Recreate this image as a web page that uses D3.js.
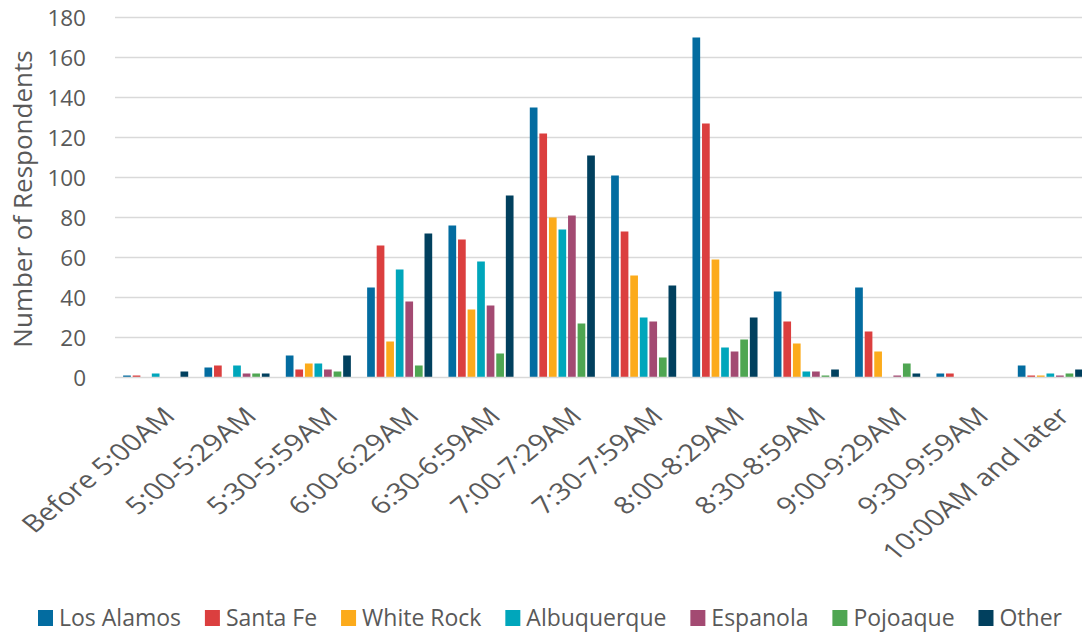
<!DOCTYPE html>
<html>
<head>
<meta charset="utf-8">
<script src="https://cdn.jsdelivr.net/npm/d3@7"></script>
<style>
  html, body { margin: 0; padding: 0; background: #fff; }
  svg { display: block; font-family: "Open Sans", "Noto Sans", sans-serif; }
</style>
</head>
<body>
<svg id="chart" width="1082" height="635"></svg>
<script>
// Arrival time windows
const categories = [
  "Before 5:00AM", "5:00-5:29AM", "5:30-5:59AM", "6:00-6:29AM", "6:30-6:59AM",
  "7:00-7:29AM", "7:30-7:59AM", "8:00-8:29AM", "8:30-8:59AM", "9:00-9:29AM",
  "9:30-9:59AM", "10:00AM and later"
];

const seriesNames = ["Los Alamos", "Santa Fe", "White Rock", "Albuquerque", "Espanola", "Pojoaque", "Other"];
const seriesColors = ["#036ca0", "#db3f3f", "#fcab1b", "#00a6bb", "#a34a72", "#4fa652", "#01405e"];

// Respondent counts per origin, one value per time window
const losAlamos   = [1, 5, 11, 45, 76, 135, 101, 170, 43, 45, 2, 6];
const santaFe     = [1, 6, 4, 66, 69, 122, 73, 127, 28, 23, 2, 1];
const whiteRock   = [0, 0, 7, 18, 34, 80, 51, 59, 17, 13, 0, 1];
const albuquerque = [2, 6, 7, 54, 58, 74, 30, 15, 3, 0, 0, 2];
const espanola    = [0, 2, 4, 38, 36, 81, 28, 13, 3, 1, 0, 1];
const pojoaque    = [0, 2, 3, 6, 12, 27, 10, 19, 1, 7, 0, 2];
const other       = [3, 2, 11, 72, 91, 111, 46, 30, 4, 2, 0, 4];

const yTicks = [0, 20, 40, 60, 80, 100, 120, 140, 160, 180];

const seriesValues = [losAlamos, santaFe, whiteRock, albuquerque, espanola, pojoaque, other];

(function () {
  const svg = d3.select("#chart");
  const plotLeft = 115, plotRight = 1091, plotTop = 17.5, plotBottom = 377.5;
  const textColor = "#595959";

  const x0 = d3.scaleBand().domain(categories).range([plotLeft, plotRight])
    .paddingInner(0.2).paddingOuter(0.1);
  const x1 = d3.scaleBand().domain(seriesNames).range([0, x0.bandwidth()])
    .paddingInner(0.195).paddingOuter(0);
  const y = d3.scaleLinear().domain([0, 180]).range([plotBottom, plotTop]);

  // Gridlines
  svg.append("g")
    .selectAll("line")
    .data(yTicks.filter(t => t > 0))
    .join("line")
    .attr("x1", plotLeft).attr("x2", plotRight)
    .attr("y1", d => y(d)).attr("y2", d => y(d))
    .attr("stroke", "#d9d9d9").attr("stroke-width", 1.3);

  // Y axis labels
  const yAxis = d3.axisLeft(y).tickValues(yTicks).tickSize(0).tickPadding(0);
  svg.append("g")
    .attr("transform", "translate(86,0)")
    .call(yAxis)
    .call(g => g.select(".domain").remove())
    .call(g => g.selectAll("text")
      .attr("fill", textColor).attr("font-size", 22.5)
      .attr("font-family", "Open Sans, sans-serif")
      .attr("dy", "0.36em"));

  // Y axis title
  svg.append("text")
    .attr("transform", "translate(32,199) rotate(-90)")
    .attr("text-anchor", "middle")
    .attr("fill", textColor).attr("font-size", 26)
    .text("Number of Respondents");

  // Bars
  const groups = svg.append("g")
    .selectAll("g")
    .data(categories)
    .join("g")
    .attr("transform", d => `translate(${x0(d)},0)`);

  groups.selectAll("rect")
    .data((c, i) => seriesNames.map((s, k) => ({ s, k, v: seriesValues[k][i] })))
    .join("rect")
    .attr("x", d => x1(d.s))
    .attr("width", x1.bandwidth())
    .attr("y", d => y(d.v))
    .attr("height", d => y(0) - y(d.v))
    .attr("fill", d => seriesColors[d.k]);

  // X axis line
  svg.append("line")
    .attr("x1", plotLeft).attr("x2", plotRight)
    .attr("y1", plotBottom).attr("y2", plotBottom)
    .attr("stroke", "#d9d9d9").attr("stroke-width", 1.5);

  // X axis labels, slanted
  const xAxis = d3.axisBottom(x0).tickSize(0).tickPadding(0);
  svg.append("g")
    .attr("transform", `translate(0,${plotBottom})`)
    .call(xAxis)
    .call(g => g.select(".domain").remove())
    .call(g => g.selectAll("text")
      .attr("fill", textColor).attr("font-size", 24)
      .attr("font-family", "Open Sans, sans-serif")
      .attr("text-anchor", "end")
      .attr("y", 0)
      .attr("dy", 0)
      .attr("transform", "translate(21,40) scale(1.22,1) rotate(-45)"));

  // Legend, laid out left to right between fixed end points
  const legendLeft = 38, legendRight = 1062, swatch = 15, swatchGap = 6;
  const legend = svg.append("g").attr("transform", "translate(0,626)");
  const item = legend.selectAll("g")
    .data(seriesNames)
    .join("g");
  item.append("rect")
    .attr("x", 0).attr("y", -16).attr("width", swatch).attr("height", 16)
    .attr("fill", (d, i) => seriesColors[i]);
  item.append("text")
    .attr("x", swatch + swatchGap).attr("y", 0)
    .attr("fill", textColor).attr("font-size", 23)
    .text(d => d);
  const widths = item.select("text").nodes().map(n => n.getComputedTextLength());
  const used = d3.sum(widths) + seriesNames.length * (swatch + swatchGap);
  const gap = (legendRight - legendLeft - used) / (seriesNames.length - 1);
  let cursor = legendLeft;
  item.attr("transform", (d, i) => {
    const pos = cursor;
    cursor += swatch + swatchGap + widths[i] + gap;
    return `translate(${pos},0)`;
  });
})();
</script>
</body>
</html>
